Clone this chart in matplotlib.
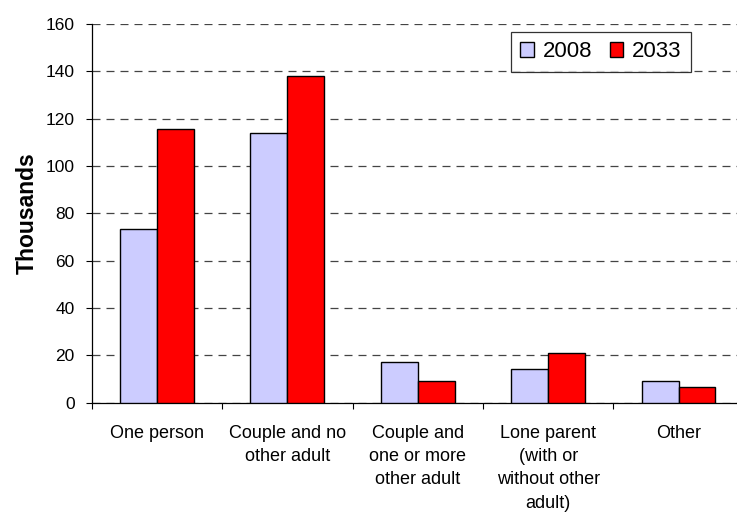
import numpy as np
import matplotlib.pyplot as plt

plt.rcParams['font.family'] = ['Liberation Sans', 'DejaVu Sans']

# Household projections by type (thousands)
categories = ['One person', 'Couple and no\nother adult', 'Couple and\none or more\nother adult',
              'Lone parent\n(with or\nwithout other\nadult)', 'Other']
households_2008 = [73.3, 113.9, 17.0, 14.1, 9.2]
households_2033 = [115.8, 138.0, 9.0, 20.9, 6.6]

fig = plt.figure(figsize=(7.37, 5.12), dpi=100)
ax = fig.add_axes([0.1245, 0.2135, 0.8847, 0.7396])

x = np.arange(len(categories)) + 0.5
w = 0.283
ax.bar(x - w / 2, households_2008, w, color='#CCCCFF', edgecolor='black', linewidth=1, label='2008', zorder=3)
ax.bar(x + w / 2, households_2033, w, color='#FF0000', edgecolor='black', linewidth=1, label='2033', zorder=3)

ax.set_xlim(0, len(categories))
ax.set_ylim(0, 160)
ax.set_yticks(np.arange(0, 161, 20))
ax.yaxis.grid(True, linestyle=(0, (6.4, 4.8)), color='#444444', linewidth=0.9)
ax.set_axisbelow(True)

# category boundaries get the tick marks, labels sit in the middle
ax.set_xticks(np.arange(len(categories) + 1), minor=True)
ax.set_xticks(x)
ax.set_xticklabels(categories, fontsize=13, linespacing=1.48, va='top')
ax.tick_params(axis='x', which='major', length=0, pad=16)
ax.tick_params(axis='x', which='minor', length=4, width=0.8, direction='out')
ax.tick_params(axis='y', length=4.3, width=0.8, labelsize=12.5, pad=8)

for s in ['top', 'right']:
    ax.spines[s].set_visible(False)
ax.spines['left'].set_linewidth(0.9)
ax.spines['bottom'].set_linewidth(0.9)

ax.set_ylabel('Thousands', fontsize=16.5, fontweight='bold', labelpad=5)

leg = ax.legend(loc='upper left', bbox_to_anchor=(0.643, 0.979), ncol=2, fontsize=16,
                frameon=True, fancybox=False, edgecolor='black', handlelength=0.6,
                handleheight=0.6, handletextpad=0.4, columnspacing=0.8, borderpad=0.42,
                borderaxespad=0)
leg.get_frame().set_linewidth(0.9)

fig.savefig('out.png', dpi=100)
